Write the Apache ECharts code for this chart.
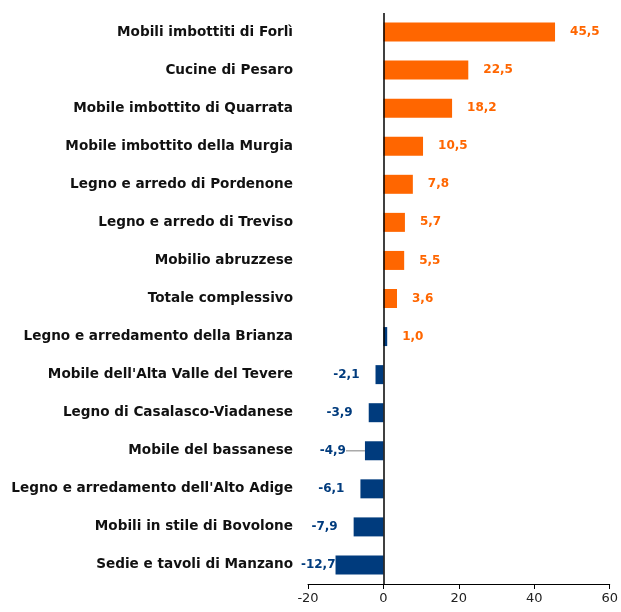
<!DOCTYPE html>
<html>
<head>
<meta charset="utf-8">
<script src="https://cdn.jsdelivr.net/npm/echarts@6/dist/echarts.min.js"></script>
<style>
	html, body { margin: 0; padding: 0; background: #fff; }
	#main { width: 621px; height: 612px; }
</style>
</head>
<body>
<div id="main"></div>
<script>
	// distretti, dall'alto verso il basso
	var distretti = [
		'Mobili imbottiti di Forlì',
		'Cucine di Pesaro',
		'Mobile imbottito di Quarrata',
		'Mobile imbottito della Murgia',
		'Legno e arredo di Pordenone',
		'Legno e arredo di Treviso',
		'Mobilio abruzzese',
		'Totale complessivo',
		'Legno e arredamento della Brianza',
		"Mobile dell'Alta Valle del Tevere",
		'Legno di Casalasco-Viadanese',
		'Mobile del bassanese',
		"Legno e arredamento dell'Alto Adige",
		'Mobili in stile di Bovolone',
		'Sedie e tavoli di Manzano'
	];
	var variazioni = [45.5, 22.5, 18.2, 10.5, 7.8, 5.7, 5.5, 3.6, 1.0, -2.1, -3.9, -4.9, -6.1, -7.9, -12.7];
	// barre blu anche se positive (come nell'originale)
	var barreBlu = ['Legno e arredamento della Brianza'];
	var xTicks = [-20, 0, 20, 40, 60];

	var ARANCIO = '#FF6600';
	var BLU = '#003B7D';

	var fmt = function(v) {
		return v.toFixed(1).replace('.', ',');
	};

	var dati = [];
	for (var i = 0; i < variazioni.length; i++) {
		var v = variazioni[i];
		var neg = v < 0;
		var item = {
			value: v,
			itemStyle: { color: (neg || barreBlu.indexOf(distretti[i]) >= 0) ? BLU : ARANCIO },
			label: {
				position: neg ? 'left' : 'right',
				distance: neg ? 16 : 15,
				color: neg ? BLU : ARANCIO
			},
			labelLine: { show: false }
		};
		if (v === -12.7) {
			item.label.distance = 0;
		}
		if (v === -4.9) {
			// etichetta spostata con linea guida
			item.label.distance = 11;
			item.labelLine = { show: true, lineStyle: { color: '#aaa', width: 1.5 } };
		}
		dati.push(item);
	}

	var chart = echarts.init(document.getElementById('main'));
	var option = {
		animation: false,
		grid: {
			left: 308,
			right: 9,
			top: 13,
			bottom: 28
		},
		xAxis: {
			type: 'value',
			min: xTicks[0],
			max: xTicks[xTicks.length - 1],
			interval: 20,
			splitLine: { show: false },
			axisLine: { show: true, onZero: false, lineStyle: { color: '#000', width: 1 } },
			axisTick: { show: true, length: 5, lineStyle: { color: '#000' } },
			axisLabel: {
				color: '#222',
				fontSize: 13,
				fontFamily: 'DejaVu Sans',
				margin: 8
			}
		},
		yAxis: {
			type: 'category',
			inverse: true,
			data: distretti,
			axisLine: { show: false },
			axisTick: { show: false },
			axisLabel: {
				color: '#111',
				fontSize: 13.6,
				fontWeight: 'bold',
				fontFamily: 'DejaVu Sans',
				margin: 15
			}
		},
		series: [
			{
				type: 'bar',
				data: dati,
				barWidth: 19,
				label: {
					show: true,
					fontSize: 12,
					fontWeight: 'bold',
					fontFamily: 'DejaVu Sans',
					formatter: function(p) { return fmt(p.value); }
				},
				labelLayout: function(p) {
					if (p.dataIndex === 11) {
						return { dx: -8 };
					}
				},
				markLine: {
					silent: true,
					symbol: 'none',
					label: { show: false },
					lineStyle: { color: '#000', width: 1.5, type: 'solid' },
					data: [{ xAxis: 0 }]
				}
			}
		]
	};
	chart.setOption(option);
</script>
</body>
</html>
